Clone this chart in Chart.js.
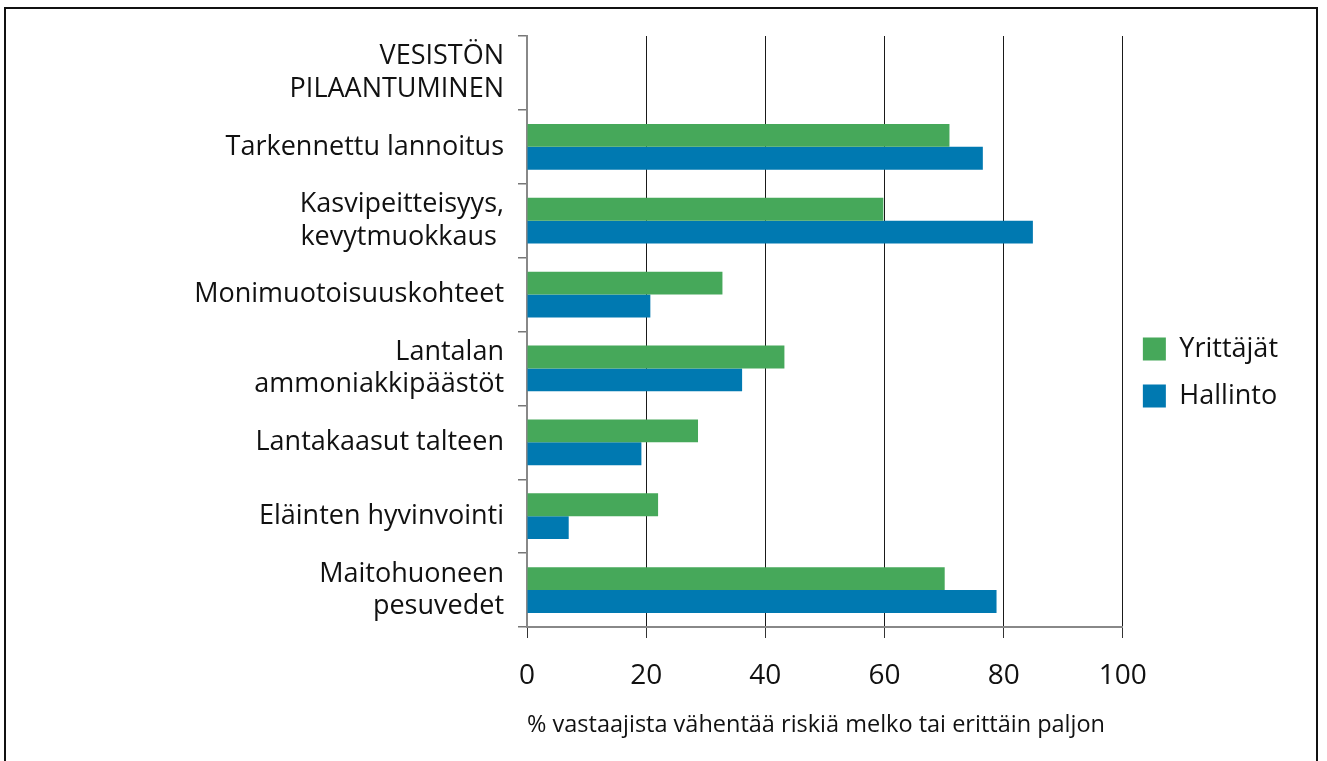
<!DOCTYPE html>
<html>
<head>
<meta charset="utf-8">
<script src="https://cdn.jsdelivr.net/npm/chart.js@4"></script>
<style>
    body { margin: 0; background: #fff; }
    #wrap { position: relative; width: 1327px; height: 761px; overflow: hidden; }
    #frame { position: absolute; left: 4px; top: 7px; width: 1314px; height: 800px; border: 2px solid #111; box-sizing: border-box; }
    canvas { position: absolute; left: 0; top: 0; }
</style>
</head>
<body>
<div id="wrap">
    <div id="frame"></div>
    <canvas id="riskChart" width="1327" height="761"></canvas>
</div>
<script>
const categories = [
    ["VESISTÖN", "PILAANTUMINEN"],
    "Tarkennettu lannoitus",
    ["Kasvipeitteisyys,", "kevytmuokkaus "],
    "Monimuotoisuuskohteet",
    ["Lantalan", "ammoniakkipäästöt"],
    "Lantakaasut talteen",
    "Eläinten hyvinvointi",
    ["Maitohuoneen", "pesuvedet"]
];
const yrittajat = [null, 70.9, 59.8, 32.8, 43.2, 28.7, 22.0, 70.1]; // green
const hallinto = [null, 76.5, 84.9, 20.7, 36.1, 19.2, 7.0, 78.8]; // blue
const xTicks = [0, 20, 40, 60, 80, 100];
const axisTitle = "% vastaajista vähentää riskiä melko tai erittäin paljon";

const FONT = "'Open Sans', 'DejaVu Sans', sans-serif";
Chart.defaults.font.family = FONT;
Chart.defaults.color = "#111";

// legend sits a bit higher than the middle of the canvas
const liftLegend = {
    id: "liftLegend",
    afterLayout(chart) {
        chart.legend.top -= 26;
        chart.legend.bottom -= 26;
    }
};

let ctx = document.getElementById("riskChart").getContext("2d");

new Chart(ctx, {
    type: "bar",
    data: {
        labels: categories,
        datasets: [
            { label: "Yrittäjät", data: yrittajat, backgroundColor: "#46a85a" },
            { label: "Hallinto", data: hallinto, backgroundColor: "#0079b1" }
        ]
    },
    options: {
        indexAxis: "y",
        responsive: false,
        animation: false,
        categoryPercentage: 0.62,
        barPercentage: 1.0,
        layout: { padding: { top: 36, right: 39, bottom: 0, left: 0 } },
        plugins: {
            tooltip: { enabled: false },
            legend: {
                position: "right",
                align: "center",
                labels: {
                    boxWidth: 23,
                    boxHeight: 23,
                    padding: 20,
                    font: { size: 27 },
                    color: "#111"
                }
            }
        },
        scales: {
            x: {
                min: 0,
                max: 100,
                afterBuildTicks: scale => { scale.ticks = xTicks.map(v => ({ value: v })); },
                afterFit: scale => { scale.height = 134; },
                grid: {
                    color: ctx => ctx.tick.value === 0 ? "rgba(0,0,0,0)" : "#1a1a1a",
                    lineWidth: 1,
                    tickLength: 11,
                    tickColor: "#333"
                },
                border: { color: "#888", width: 2 },
                ticks: { font: { size: 28 }, padding: 21, color: "#111" },
                title: {
                    display: true,
                    align: "start",
                    text: axisTitle,
                    font: { size: 23.5 },
                    color: "#111",
                    padding: { top: 4, bottom: 22 }
                }
            },
            y: {
                afterFit: scale => {
                    scale.width = 527;
                    // labels already fit inside their rows
                    scale.paddingTop = 0;
                    scale.paddingBottom = 0;
                },
                grid: {
                    offset: true,
                    drawOnChartArea: false,
                    tickLength: 9,
                    tickColor: "#777",
                    lineWidth: 1.5
                },
                border: { color: "#888", width: 2 },
                ticks: { font: { size: 27 }, padding: 14, color: "#111" }
            }
        }
    },
    plugins: [liftLegend]
});
</script>
</body>
</html>
